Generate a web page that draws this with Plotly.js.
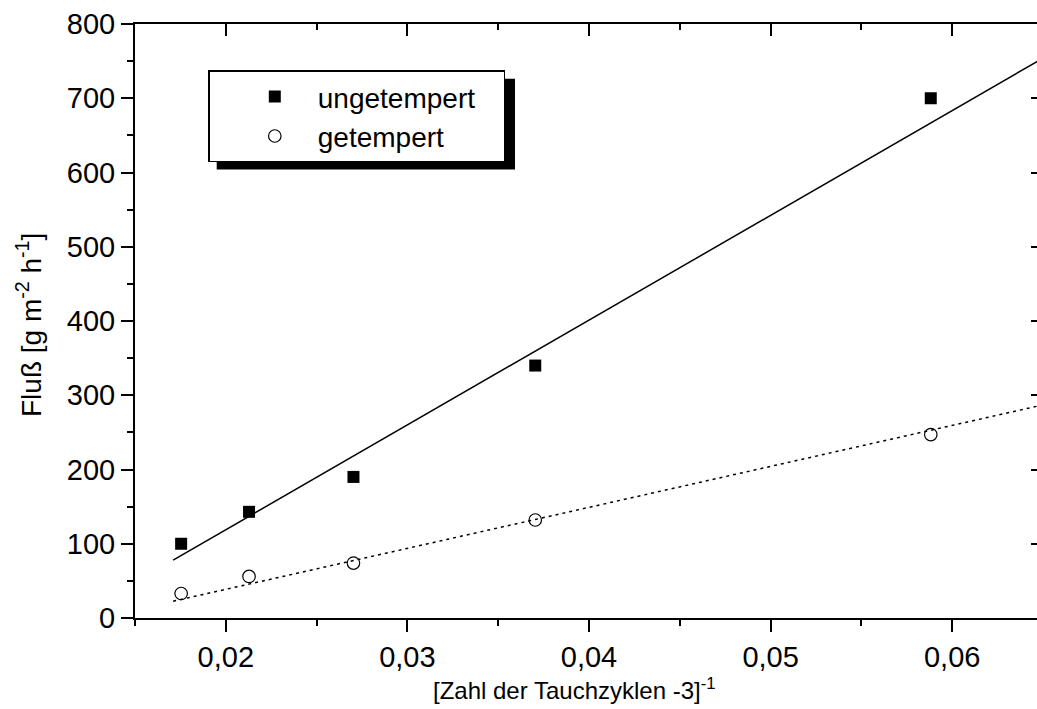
<!DOCTYPE html>
<html>
<head>
<meta charset="utf-8">
<script src="https://cdn.plot.ly/plotly-3.0.1.min.js"></script>
<style>
html, body { margin: 0; padding: 0; overflow: hidden; background: #fff; }
#chart { width: 1043px; height: 709px; }
</style>
</head>
<body>
<div id="chart"></div>
<script>
// x = [Zahl der Tauchzyklen - 3]^-1
const xValues = [0.01754, 0.02128, 0.02703, 0.03704, 0.05882];
const ungetempert = [100, 143, 190, 340, 700];
const getempert = [33, 56, 74, 132, 247];
// straight fit lines
const fitX = [0.0171, 0.065];
const fitUngetempert = [78, 754];
const fitGetempert = [22.6, 287];
const seriesNames = ['ungetempert', 'getempert'];

const FONT = 'Liberation Sans, Arial, sans-serif';
const PAD = '\u00A0\u00A0\u00A0';

const traces = [
  { x: fitX, y: fitUngetempert, mode: 'lines', line: {color: '#000', width: 1.5}, showlegend: false, hoverinfo: 'skip' },
  { x: fitX, y: fitGetempert, mode: 'lines', line: {color: '#000', width: 1.5, dash: '3px,4px'}, showlegend: false, hoverinfo: 'skip' },
  { x: xValues, y: ungetempert, mode: 'markers', name: seriesNames[0] + PAD,
    marker: {symbol: 'square', size: 12, color: '#000'} },
  { x: xValues, y: getempert, mode: 'markers', name: seriesNames[1],
    marker: {symbol: 'circle-open', size: 12.5, color: '#000', line: {color: '#000', width: 1.2}} },
  { x: [], y: [], xaxis: 'x2', yaxis: 'y2', showlegend: false, hoverinfo: 'skip' }
];

const L = 135, T = 23.5, PW = 1043 - L, PH = 618.5 - T;
function px(xp) { return (xp - L) / PW; }
function py(yp) { return (618.5 - yp) / PH; }

const axisCommon = { showline: true, linecolor: '#000', linewidth: 2, showgrid: false, zeroline: false,
  tickcolor: '#000', tickwidth: 2, ticklen: 12 };

const layout = {
  width: 1043, height: 709,
  margin: {l: L, r: 0, t: T, b: 709 - 618.5, pad: 0},
  paper_bgcolor: '#fff', plot_bgcolor: '#fff',
  separators: ', ',
  font: {family: FONT, size: 28, color: '#000'},
  showlegend: true,
  xaxis: Object.assign({}, axisCommon, {
    range: [0.015, 0.065], tick0: 0, dtick: 0.01, tickformat: '.2f', ticks: 'outside',
    tickfont: {family: FONT, size: 29},
    minor: {dtick: 0.005, ticks: 'outside', ticklen: 6, tickwidth: 2, tickcolor: '#000', showgrid: false}
  }),
  yaxis: Object.assign({}, axisCommon, {
    range: [0, 800], tick0: 0, dtick: 100, ticks: 'outside', tickfont: {family: FONT, size: 29},
    minor: {dtick: 50, ticks: 'outside', ticklen: 6, tickwidth: 2, tickcolor: '#000', showgrid: false}
  }),
  xaxis2: Object.assign({}, axisCommon, {
    overlaying: 'x', side: 'top', range: [0.015, 0.065], tick0: 0, dtick: 0.01, ticks: 'inside',
    showticklabels: false,
    minor: {dtick: 0.005, ticks: 'inside', ticklen: 6, tickwidth: 2, tickcolor: '#000', showgrid: false}
  }),
  yaxis2: Object.assign({}, axisCommon, {
    overlaying: 'y', side: 'right', range: [0, 800], tick0: 0, dtick: 100, ticks: 'inside',
    showticklabels: false,
    minor: {dtick: 50, ticks: 'inside', ticklen: 6, tickwidth: 2, tickcolor: '#000', showgrid: false}
  }),
  legend: {
    x: px(208.3), y: py(70), xanchor: 'left', yanchor: 'top',
    bgcolor: '#fff', bordercolor: '#000', borderwidth: 1.5,
    font: {family: FONT, size: 28, color: '#000'}, itemwidth: 76, indentation: 22
  },
  shapes: [
    { type: 'rect', xref: 'paper', yref: 'paper', x0: px(216.7), x1: px(515), y0: py(169.3), y1: py(78.3),
      fillcolor: '#000', line: {width: 0}, layer: 'above' }
  ],
  annotations: [
    { text: '[Zahl der Tauchzyklen -3]<sup>-1</sup>', xref: 'paper', yref: 'paper',
      x: px(431), y: py(690), xanchor: 'left', yanchor: 'middle', showarrow: false,
      font: {family: FONT, size: 24, color: '#000'} },
    { text: 'Fluß [g m<sup>-2</sup> h<sup>-1</sup>]', xref: 'paper', yref: 'paper',
      x: px(29), y: py(325), xanchor: 'center', yanchor: 'middle', textangle: -90, showarrow: false,
      font: {family: FONT, size: 28, color: '#000'} }
  ]
};

Plotly.newPlot('chart', traces, layout, {displayModeBar: false, staticPlot: true});
</script>
</body>
</html>
